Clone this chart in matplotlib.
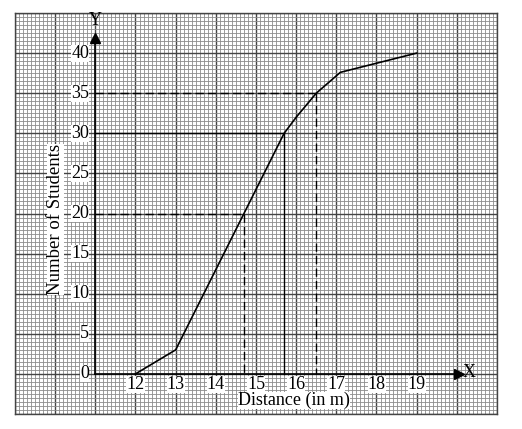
import matplotlib
matplotlib.use('Agg')
import matplotlib.pyplot as plt
import numpy as np

# ogive points
dist = [12, 13, 15.7, 16, 16.5, 17.1, 19]
students = [0, 3, 30, 32, 35, 37.6, 40]

x_ticks = [12, 13, 14, 15, 16, 17, 18, 19]
y_ticks = [0, 5, 10, 15, 20, 25, 30, 35, 40]

# read-off guides: (y value, x where it meets the curve, style)
guides = [(20, 14.7, '--'), (30, 15.7, '-'), (35, 16.5, '--')]

plt.rcParams['font.family'] = ['Liberation Serif', 'DejaVu Serif']

fig = plt.figure(figsize=(5.22, 4.29), dpi=100)
ax = fig.add_axes([15 / 522, 15 / 429, 482 / 522, 401 / 429])
ax.set_xlim(9, 21)
ax.set_ylim(-5, 45)

# graph paper
for xv in np.arange(9, 21.01, 0.1):
    major = abs(xv - round(xv)) < 1e-6
    ax.axvline(xv, color='#444444' if major else '#8c8c8c',
               lw=1.0 if major else 0.6, zorder=1)
for yv in np.arange(-5, 45.01, 0.5):
    major = abs(yv / 5 - round(yv / 5)) < 1e-6
    ax.axhline(yv, color='#444444' if major else '#8c8c8c',
               lw=1.0 if major else 0.6, zorder=1)

ax.set_xticks([])
ax.set_yticks([])
for s in ax.spines.values():
    s.set_color('#444444')
    s.set_linewidth(1.0)

# axes with arrows
ax.plot([11, 20], [0, 0], color='black', lw=1.2, zorder=3)
ax.plot([11, 11], [0, 42], color='black', lw=1.2, zorder=3)
ax.plot(20.05, 0, marker='>', color='black', markersize=7, zorder=4)
ax.plot(11, 41.9, marker='^', color='black', markersize=7, zorder=4)
ax.text(20.15, 0.2, 'X', fontsize=13, ha='left', va='center', zorder=5)
ax.text(11, 43.0, 'Y', fontsize=13, ha='center', va='bottom', zorder=5)

lbl = dict(fontsize=13, zorder=5,
           bbox=dict(facecolor='white', edgecolor='none', pad=0.0))
for t in x_ticks:
    ax.text(t, -1.35, str(t), ha='center', va='center', **lbl)
for t in y_ticks:
    ax.text(10.85, t, str(t), ha='right', va='center', **lbl)

ax.text(14.55, -3.35, 'Distance (in m)', ha='left', va='center', **lbl)
ax.text(10.0, 19.3, 'Number of Students', rotation=90, ha='center',
        va='center', **dict(lbl, fontsize=13.5))

# guide lines
for yv, xv, ls in guides:
    kw = dict(color='black', lw=1.0, zorder=3)
    if ls == '--':
        kw['dashes'] = (6, 3)
    ax.plot([11, xv], [yv, yv], **kw)
    ax.plot([xv, xv], [yv, 0], **kw)

# ogive
ax.plot(dist, students, color='black', lw=1.2, zorder=4)

fig.savefig('out.png', dpi=100)
